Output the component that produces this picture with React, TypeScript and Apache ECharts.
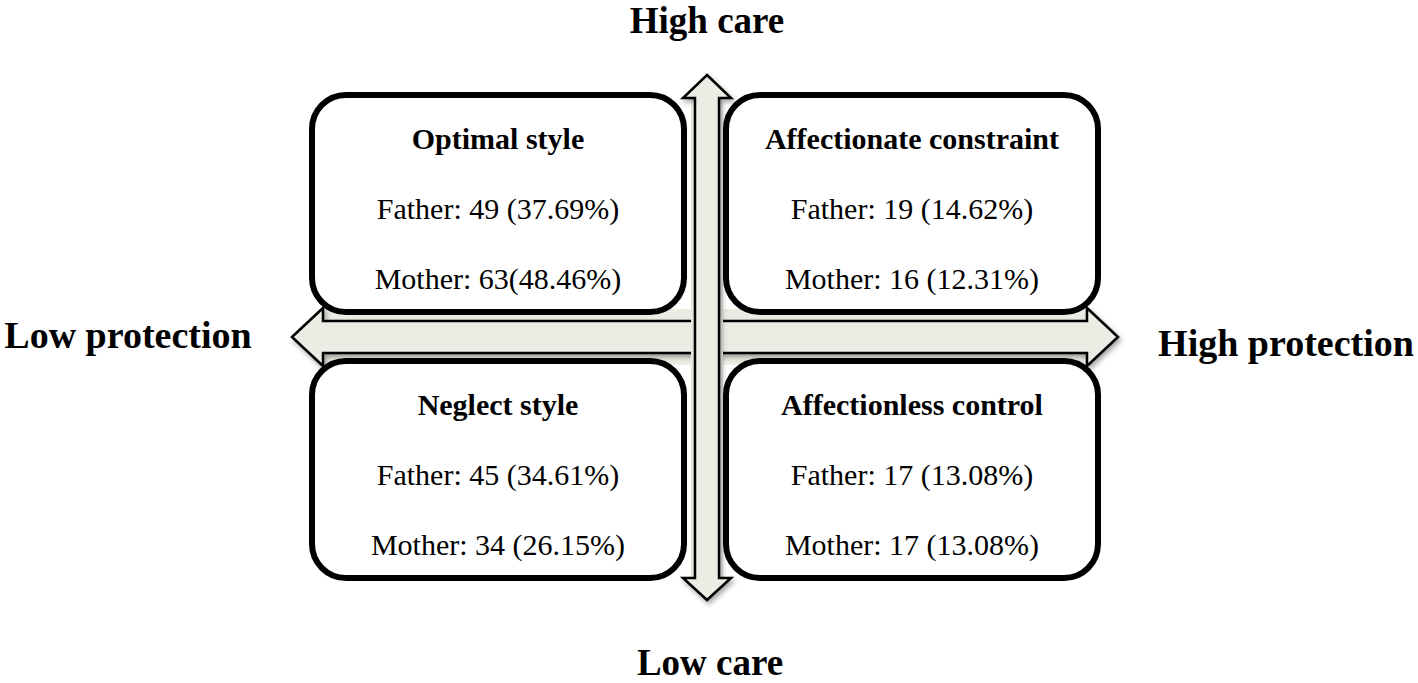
import React, { useEffect, useRef } from "react";
import * as echarts from "echarts";

const axisLabels = ["High care", "Low care", "Low protection", "High protection"];
const quadrantTitles = ["Optimal style", "Affectionate constraint", "Neglect style", "Affectionless control"];
const fatherLabels = ["Father: 49 (37.69%)", "Father: 19 (14.62%)", "Father: 45 (34.61%)", "Father: 17 (13.08%)"];
const motherLabels = ["Mother: 63(48.46%)", "Mother: 16 (12.31%)", "Mother: 34 (26.15%)", "Mother: 17 (13.08%)"];

const FONT = '"Liberation Serif", "Times New Roman", serif';
const ARROW_FILL = "#edece4";

export default function App() {
  const ref = useRef<HTMLDivElement>(null);
  useEffect(() => {
    document.body.style.margin = "0";
    const chart = echarts.init(ref.current!, null, { renderer: "svg" });

    const boxes = [
      { x: 312, y: 95, w: 372, h: 217 },
      { x: 726, y: 95, w: 372, h: 217 },
      { x: 312, y: 361, w: 372, h: 217 },
      { x: 726, y: 361, w: 372, h: 217 },
    ];

    const shadow = { shadowBlur: 5, shadowOffsetX: 2, shadowOffsetY: 3, shadowColor: "rgba(0,0,0,0.35)" };

    const elements: any[] = [];
    // horizontal arrow
    elements.push({
      type: "rect",
      shape: { x: 323, y: 309, width: 764, height: 56 },
      style: { fill: ARROW_FILL },
      z: 1,
    });
    elements.push({
      type: "polygon",
      shape: {
        points: [
          [292, 337], [323, 308], [323, 321], [1087, 321], [1087, 308],
          [1118, 337], [1087, 366], [1087, 353], [323, 353], [323, 366],
        ],
      },
      style: { fill: ARROW_FILL, stroke: "#000", lineWidth: 2.5, ...shadow },
      z: 2,
    });
    // boxes
    boxes.forEach((b, i) => {
      elements.push({
        type: "rect",
        shape: { x: b.x, y: b.y, width: b.w, height: b.h, r: 34 },
        style: { fill: "#fff", stroke: "#000", lineWidth: 6 },
        z: 3,
      });
      const cx = b.x + b.w / 2;
      elements.push({
        type: "text",
        x: cx, y: b.y + 43,
        style: { text: quadrantTitles[i], fontFamily: FONT, fontSize: 30, fontWeight: "bold", fill: "#000", align: "center", verticalAlign: "middle" },
        z: 6,
      });
      elements.push({
        type: "text",
        x: cx, y: b.y + 113,
        style: { text: fatherLabels[i], fontFamily: FONT, fontSize: 30, fill: "#000", align: "center", verticalAlign: "middle" },
        z: 6,
      });
      elements.push({
        type: "text",
        x: cx, y: b.y + 183,
        style: { text: motherLabels[i], fontFamily: FONT, fontSize: 30, fill: "#000", align: "center", verticalAlign: "middle" },
        z: 6,
      });
    });
    // vertical arrow
    elements.push({
      type: "rect",
      shape: { x: 691, y: 98, width: 32, height: 480 },
      style: { fill: ARROW_FILL },
      z: 4,
    });
    elements.push({
      type: "polygon",
      shape: {
        points: [
          [707, 75], [731, 98], [719, 98], [719, 578], [731, 578],
          [707, 600], [683, 578], [695, 578], [695, 98], [683, 98],
        ],
      },
      style: { fill: ARROW_FILL, stroke: "#000", lineWidth: 2.5, ...shadow },
      z: 5,
    });
    // axis labels
    const axisPos = [
      [707, 20, 37],
      [710, 662, 37],
      [128, 335, 38],
      [1286, 343, 38],
    ];
    axisLabels.forEach((t, i) => {
      const p = axisPos[i];
      elements.push({
        type: "text",
        x: p[0], y: p[1],
        style: { text: t, fontFamily: FONT, fontSize: p[2], fontWeight: "bold", fill: "#000", align: "center", verticalAlign: "middle" },
        z: 6,
      });
    });

    chart.setOption({
      animation: false,
      backgroundColor: "#ffffff",
      graphic: { elements },
    });
    return () => chart.dispose();
  }, []);
  return <div ref={ref} style={{ position: "absolute", left: 0, top: 0, width: 1418, height: 683 }} />;
}
